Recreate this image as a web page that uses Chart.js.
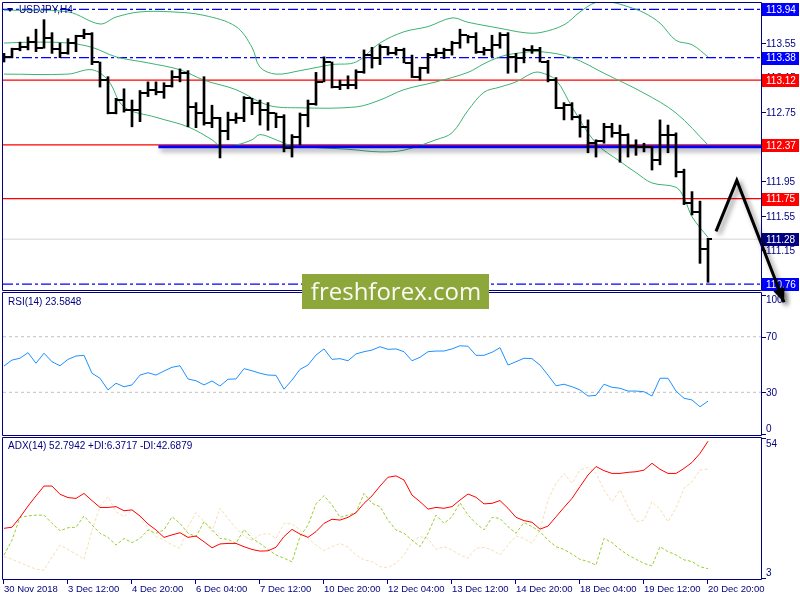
<!DOCTYPE html>
<html>
<head>
<meta charset="UTF-8">
<title>USDJPY,H4</title>
<script src="https://cdn.jsdelivr.net/npm/chart.js@4.4.1/dist/chart.umd.min.js"></script>
<style>
  body { margin: 0; background: #fff; }
  #wrap { position: relative; width: 800px; height: 600px; }
  #wrap canvas { position: absolute; left: 0; top: 0; }
</style>
</head>
<body>
<div id="wrap">
  <canvas id="adx" width="800" height="600"></canvas>
  <canvas id="rsi" width="800" height="600"></canvas>
  <canvas id="price" width="800" height="600"></canvas>
</div>
<script>
// ---- data (H4 bars, index 0 = 30 Nov 2018) ----
var opens = [113.38,113.39,113.48,113.50,113.56,113.49,113.61,113.48,113.43,113.55,
  113.63,113.65,113.33,113.12,112.74,112.89,112.78,112.78,112.97,113.01,
  112.98,113.05,113.16,113.20,112.81,112.74,112.62,112.68,112.53,112.66,
  112.68,112.91,112.86,112.78,112.74,112.69,112.34,112.46,112.72,112.84,
  113.10,113.33,113.04,113.06,113.06,113.21,113.41,113.38,113.50,113.43,
  113.47,113.32,113.16,113.26,113.41,113.43,113.47,113.55,113.64,113.62,
  113.45,113.47,113.53,113.64,113.39,113.38,113.47,113.47,113.33,113.12,
  112.80,112.83,112.69,112.58,112.39,112.42,112.58,112.51,112.49,112.36,
  112.35,112.35,112.20,112.49,112.49,112.06,111.70,111.59,111.17];
var highs = [113.43,113.49,113.56,113.62,113.71,113.82,113.67,113.55,113.60,113.64,
  113.71,113.67,113.33,113.16,112.91,113.02,112.89,113.00,113.10,113.10,
  113.09,113.23,113.25,113.23,112.86,113.16,112.83,112.69,112.75,112.74,
  112.93,112.91,112.89,112.86,112.74,112.72,112.49,112.74,112.89,113.21,
  113.39,113.33,113.12,113.17,113.24,113.47,113.50,113.53,113.51,113.50,
  113.49,113.41,113.27,113.43,113.49,113.49,113.57,113.71,113.64,113.67,
  113.50,113.64,113.67,113.67,113.43,113.49,113.52,113.50,113.35,113.15,
  112.86,112.86,112.72,112.66,112.43,112.62,112.62,112.60,112.50,112.43,
  112.39,112.35,112.66,112.60,112.51,112.09,111.83,111.72,111.29];
var lows = [113.33,113.38,113.46,113.47,113.45,113.49,113.43,113.38,113.42,113.45,
  113.60,113.30,113.04,112.73,112.73,112.75,112.58,112.64,112.93,112.95,
  112.91,113.04,113.10,112.58,112.57,112.60,112.57,112.22,112.43,112.62,
  112.64,112.72,112.60,112.54,112.57,112.29,112.23,112.37,112.58,112.83,
  113.10,113.03,113.01,113.02,113.02,113.20,113.26,113.30,113.41,113.41,
  113.32,113.15,113.12,113.20,113.38,113.37,113.41,113.49,113.55,113.43,
  113.41,113.39,113.49,113.20,113.21,113.32,113.43,113.33,113.10,112.79,
  112.66,112.66,112.46,112.28,112.23,112.39,112.46,112.17,112.23,112.25,
  112.29,112.08,112.14,112.28,112.00,111.68,111.56,111.00,110.78];
var closes = [113.39,113.48,113.50,113.56,113.49,113.61,113.48,113.43,113.55,113.63,
  113.65,113.33,113.12,112.74,112.89,112.78,112.78,112.97,113.01,112.98,
  113.05,113.16,113.20,112.81,112.74,112.62,112.68,112.53,112.66,112.68,
  112.91,112.86,112.78,112.74,112.69,112.34,112.46,112.72,112.84,113.10,
  113.33,113.04,113.06,113.06,113.21,113.41,113.38,113.50,113.43,113.47,
  113.32,113.16,113.26,113.41,113.43,113.47,113.55,113.64,113.62,113.45,
  113.47,113.53,113.64,113.39,113.38,113.47,113.47,113.33,113.12,112.80,
  112.83,112.69,112.58,112.39,112.42,112.58,112.51,112.49,112.36,112.35,
  112.35,112.20,112.49,112.49,112.06,111.70,111.59,111.17,111.28];

// bollinger bands, read at key bars
var upperX = [0,8,12,14,17,21,25,29,31,32,34,37,41,44,47,50,53,56,58,62,65,67,70,72,74,76,78,80,82,84,86,88];
var upperY = [113.93,113.91,113.77,113.85,113.91,113.91,113.87,113.74,113.50,113.27,113.19,113.23,113.30,113.33,113.55,113.68,113.74,113.84,113.79,113.72,113.67,113.67,113.76,113.91,114.02,114.02,113.97,113.90,113.78,113.58,113.53,113.39];
var middleX = [0,4,8,11,14,18,22,25,29,33,37,44,47,50,54,58,60,62,64,67,71,75,80,84,88];
var middleY = [113.55,113.56,113.55,113.50,113.39,113.32,113.24,113.12,113.01,112.83,112.80,112.81,112.89,113.01,113.10,113.21,113.31,113.39,113.43,113.45,113.38,113.20,112.97,112.74,112.37];
var lowerX = [0,8,11,13,15,19,23,26,27,29,31,32,34,36,39,43,47,50,54,56,58,60,62,64,66,67,69,71,74,77,79,81,84,85,86,88];
var lowerY = [113.19,113.19,113.24,113.12,112.81,112.69,112.58,112.43,112.36,112.37,112.43,112.49,112.43,112.36,112.34,112.32,112.29,112.31,112.43,112.51,112.77,112.98,113.04,113.10,113.20,113.21,113.12,112.81,112.39,112.18,112.05,111.93,111.88,111.76,111.54,111.30];

var rsi = [48.9,53.2,54.5,58.5,50.9,58.1,52.0,49.1,53.7,56.1,
  56.6,43.7,40.1,31.7,36.5,34.0,35.3,42.4,44.1,42.4,
  45.3,48.0,49.1,39.6,38.3,35.3,38.1,34.5,39.4,39.6,
  47.0,45.5,43.7,42.4,42.2,32.2,38.8,46.5,49.6,56.8,
  61.2,53.7,54.2,52.7,57.6,59.2,60.4,62.8,60.9,61.2,
  59.2,52.7,55.2,59.2,59.7,59.7,61.2,63.5,63.1,56.6,
  56.6,58.8,62.1,49.6,52.0,54.5,54.2,49.6,42.4,34.7,
  35.8,34.0,31.7,27.3,27.8,35.8,33.6,32.9,30.9,30.9,
  30.4,27.3,40.1,40.1,30.9,25.7,24.5,19.6,23.6];
var adx = [21.1,21.5,25.1,29.2,32.9,36.5,36.5,33.5,32.3,32.0,
  33.8,31.2,28.7,28.7,29.0,27.5,27.8,25.6,22.7,20.5,
  17.8,18.7,19.5,17.8,18.3,16.2,14.0,15.4,15.6,15.6,
  14.4,13.4,12.8,12.9,14.2,18.1,20.7,19.0,17.8,19.9,
  22.9,24.4,24.1,25.1,26.8,30.2,32.9,36.5,39.7,40.2,
  38.7,33.2,30.8,28.1,28.7,28.4,29.0,31.4,33.6,32.4,
  30.0,30.2,31.2,28.4,25.1,23.9,23.3,20.8,21.9,25.3,
  28.7,32.0,36.3,40.5,43.6,42.1,41.1,41.1,41.5,41.7,
  42.3,44.8,42.6,41.1,41.1,42.9,45.1,48.4,52.8];
var plusDI = [11.4,16.8,25.1,25.6,25.9,25.9,22.9,20.2,21.3,21.5,
  25.6,22.3,19.3,17.8,15.0,17.4,15.9,17.4,20.5,19.3,
  20.5,25.3,22.9,19.3,18.1,23.5,20.7,17.4,17.1,15.6,
  20.7,17.4,15.6,13.4,11.4,10.2,8.9,18.1,22.3,30.0,
  33.0,29.6,25.1,25.9,26.8,33.8,30.2,29.0,24.1,20.5,
  19.3,16.8,14.4,19.3,25.9,22.9,25.3,30.4,25.9,22.9,
  20.5,25.1,24.7,21.7,19.3,23.2,21.7,19.9,16.8,14.4,
  13.4,11.7,9.8,9.0,7.7,17.4,15.9,13.4,11.4,9.8,
  8.3,7.4,14.4,12.6,11.4,9.6,9.0,7.1,6.4];
var minusDI = [10.8,9.8,8.6,7.4,6.2,5.9,10.8,15.0,13.4,11.7,
  9.8,20.5,29.0,32.6,27.2,25.3,27.8,25.3,21.1,18.1,
  16.8,15.0,13.8,21.7,26.8,23.5,19.9,28.4,24.7,21.1,
  18.3,16.8,18.7,19.3,17.4,22.9,22.7,20.5,17.4,15.0,
  13.0,14.4,15.6,14.2,11.4,9.6,9.0,7.1,6.8,8.3,
  11.4,16.2,18.1,17.4,13.4,14.4,13.2,11.4,10.2,13.8,
  14.2,13.2,11.4,15.0,18.3,17.4,15.6,20.5,31.4,37.5,
  41.1,37.5,42.3,43.3,41.1,35.1,30.8,35.1,29.0,23.5,
  24.1,30.8,28.0,23.5,28.4,35.7,38.1,42.3,42.7];

// levels and axis texts
var blueLevels = [113.94, 113.38, 110.76];
var redLevels = [113.12, 112.37, 111.75];
var bidLevel = 111.28;
var supportLevel = 112.35, supportFrom = 19.3;
var priceTicks = [113.55, 113.15, 112.75, 112.35, 111.95, 111.55, 111.15, 110.75];
var arrowX = [89.0, 91.6, 97.5];
var arrowY = [111.37, 111.96, 110.55];
var rsiLevels = [70, 30];
var rsiLabels = [100, 70, 30, 0];
var adxLabels = [54, 3];
var timeLabels = ['30 Nov 2018','3 Dec 12:00','4 Dec 20:00','6 Dec 04:00','7 Dec 12:00','10 Dec 20:00',
  '12 Dec 04:00','13 Dec 12:00','14 Dec 20:00','18 Dec 04:00','19 Dec 12:00','20 Dec 20:00'];
var timeBars = [0,8,16,24,32,40,48,56,64,72,80,88];

var xMin = -0.125, xMax = 94.625;
var NAVY = '#000080';
var FONT = '"Liberation Sans", Arial, sans-serif';

function pts(xs, ys) { return xs.map(function (x, i) { return {x: x, y: ys[i]}; }); }
function series(vals) { return vals.map(function (v, i) { return {x: i, y: v}; }); }
function hline(v, from) { return [{x: from === undefined ? xMin : from, y: v}, {x: xMax, y: v}]; }

function tickImg(left) {
  var c = document.createElement('canvas');
  c.width = 8; c.height = 2;
  var g = c.getContext('2d');
  g.fillStyle = '#000';
  g.fillRect(left ? 0 : 5, 0, 3, 2);
  return c;
}

function opts(pad, yMin, yMax) {
  return {
    responsive: false, animation: false, devicePixelRatio: 1, events: [],
    layout: {padding: pad, autoPadding: false},
    plugins: {legend: {display: false}, tooltip: {enabled: false}},
    scales: {
      x: {type: 'linear', min: xMin, max: xMax, display: false, offset: false, grid: {offset: false}},
      y: {type: 'linear', min: yMin, max: yMax, display: false}
    },
    elements: {point: {radius: 0}, line: {borderWidth: 1}}
  };
}

function setShadow(ctx, dx, dy) {
  ctx.shadowColor = 'rgba(0,0,0,0.45)';
  ctx.shadowBlur = 5;
  ctx.shadowOffsetX = dx;
  ctx.shadowOffsetY = dy;
}

var shadowPlugin = {
  id: 'shadow',
  beforeDatasetDraw: function (chart, args) {
    var ds = chart.data.datasets[args.index];
    if (!ds.shadow) return;
    chart.ctx.save();
    setShadow(chart.ctx, ds.shadow[0], ds.shadow[1]);
  },
  afterDatasetDraw: function (chart, args) {
    if (chart.data.datasets[args.index].shadow) chart.ctx.restore();
  }
};

function frame(ctx, top, bottom) {
  ctx.save();
  ctx.strokeStyle = NAVY; ctx.lineWidth = 1;
  ctx.beginPath();
  ctx.moveTo(2.5, top + 0.5); ctx.lineTo(761.5, top + 0.5);
  ctx.moveTo(2.5, bottom + 0.5); ctx.lineTo(761.5, bottom + 0.5);
  ctx.moveTo(2.5, top + 0.5); ctx.lineTo(2.5, bottom + 0.5);
  ctx.moveTo(761.5, top + 0.5); ctx.lineTo(761.5, bottom + 0.5);
  ctx.stroke();
  ctx.restore();
}

function axisTick(ctx, y) {
  ctx.fillStyle = NAVY;
  ctx.fillRect(762, Math.round(y), 4, 1);
}

// ---- price panel ----
var priceDecor = {
  id: 'priceDecor',
  beforeDatasetsDraw: function (chart) {
    var ctx = chart.ctx, ys = chart.scales.y;
    ctx.save();
    ctx.font = '10px ' + FONT;
    ctx.textBaseline = 'middle';
    priceTicks.forEach(function (v) {
      var y = ys.getPixelForValue(v);
      axisTick(ctx, y);
      ctx.fillStyle = NAVY;
      ctx.fillText(v.toFixed(2), 766, y + 1);
    });
    function tag(v, bg) {
      var y = ys.getPixelForValue(v);
      ctx.fillStyle = bg;
      ctx.fillRect(762, Math.round(y) - 6, 37, 13);
      ctx.fillStyle = '#fff';
      ctx.fillText(v.toFixed(2), 766, y + 1);
    }
    blueLevels.forEach(function (v) { tag(v, '#0000ff'); });
    redLevels.forEach(function (v) { tag(v, '#ff0000'); });
    tag(bidLevel, NAVY);
    ctx.restore();
  },
  afterDatasetsDraw: function (chart) {
    // arrow head at the end of the drawn arrow
    var ctx = chart.ctx, xs = chart.scales.x, ys = chart.scales.y;
    var n = arrowX.length;
    var x1 = xs.getPixelForValue(arrowX[n - 2]), y1 = ys.getPixelForValue(arrowY[n - 2]);
    var x2 = xs.getPixelForValue(arrowX[n - 1]), y2 = ys.getPixelForValue(arrowY[n - 1]);
    var a = Math.atan2(y2 - y1, x2 - x1), len = 14, w = 6;
    ctx.save();
    setShadow(ctx, 3, 3);
    ctx.fillStyle = '#000';
    ctx.beginPath();
    ctx.moveTo(x2, y2);
    ctx.lineTo(x2 - len * Math.cos(a) + w * Math.sin(a), y2 - len * Math.sin(a) - w * Math.cos(a));
    ctx.lineTo(x2 - len * Math.cos(a) - w * Math.sin(a), y2 - len * Math.sin(a) + w * Math.cos(a));
    ctx.closePath();
    ctx.fill();
    ctx.restore();
  },
  afterDraw: function (chart) {
    var ctx = chart.ctx;
    frame(ctx, 2, 290);
    ctx.save();
    // symbol caption
    ctx.fillStyle = NAVY;
    ctx.beginPath();
    ctx.moveTo(7, 8); ctx.lineTo(13, 8); ctx.lineTo(10, 12); ctx.closePath();
    ctx.fill();
    ctx.font = '10px ' + FONT;
    ctx.textBaseline = 'middle';
    ctx.fillText('USDJPY,H4', 19, 10);
    // watermark
    ctx.fillStyle = '#8ea73b';
    ctx.fillRect(302, 274, 187, 35);
    ctx.fillStyle = 'rgba(255,255,255,0.95)';
    ctx.font = '24px "Open Sans", sans-serif';
    ctx.textAlign = 'center';
    ctx.textBaseline = 'alphabetic';
    ctx.fillText('freshforex.com', 396, 300);
    ctx.restore();
  }
};

var openImg = tickImg(true), closeImg = tickImg(false);

new Chart(document.getElementById('price'), {
  type: 'line',
  data: {
    datasets: [
      {type: 'line', data: pts(arrowX, arrowY), borderColor: '#000', borderWidth: 3, clip: false,
        shadow: [3, 3], order: 0},
      {type: 'scatter', data: series(opens), pointStyle: openImg, pointRadius: 1, order: 1},
      {type: 'scatter', data: series(closes), pointStyle: closeImg, pointRadius: 1, order: 1},
      {type: 'bar', data: highs.map(function (h, i) { return {x: i, y: [lows[i], h]}; }),
        backgroundColor: '#000', borderWidth: 0, barThickness: 2, order: 2},
      {type: 'line', data: hline(supportLevel, supportFrom), borderColor: '#0000ff', borderWidth: 3,
        shadow: [2, 3], order: 3},
      {type: 'line', data: pts(upperX, upperY), borderColor: '#3cb371', tension: 0.35, order: 4},
      {type: 'line', data: pts(middleX, middleY), borderColor: '#3cb371', tension: 0.35, order: 4},
      {type: 'line', data: pts(lowerX, lowerY), borderColor: '#3cb371', tension: 0.35, order: 4},
      {type: 'line', data: hline(blueLevels[0]), borderColor: '#0000ff', borderWidth: 1.3, borderDash: [10, 3, 3, 3], order: 5},
      {type: 'line', data: hline(blueLevels[1]), borderColor: '#0000ff', borderWidth: 1.3, borderDash: [10, 3, 3, 3], order: 5},
      {type: 'line', data: hline(blueLevels[2]), borderColor: '#0000ff', borderWidth: 1.3, borderDash: [10, 3, 3, 3], order: 5},
      {type: 'line', data: hline(redLevels[0]), borderColor: '#ff0000', borderWidth: 1.2, order: 6},
      {type: 'line', data: hline(redLevels[1]), borderColor: '#ff0000', borderWidth: 1.2, order: 6},
      {type: 'line', data: hline(redLevels[2]), borderColor: '#ff0000', borderWidth: 1.2, order: 6},
      {type: 'line', data: hline(bidLevel), borderColor: '#d3d3d3', order: 7}
    ]
  },
  options: opts({left: 3, right: 39, top: 3, bottom: 311}, 110.703, 114.013),
  plugins: [shadowPlugin, priceDecor]
});

// ---- RSI panel ----
var rsiDecor = {
  id: 'rsiDecor',
  afterDraw: function (chart) {
    var ctx = chart.ctx, ys = chart.scales.y;
    frame(ctx, 292, 435);
    ctx.save();
    ctx.font = '10px ' + FONT;
    ctx.fillStyle = NAVY;
    rsiLabels.forEach(function (v) {
      var y = ys.getPixelForValue(v);
      axisTick(ctx, y);
      ctx.textBaseline = v === 100 ? 'top' : (v === 0 ? 'bottom' : 'middle');
      ctx.fillText(String(v), 766, v === 100 ? y : (v === 0 ? y : y + 1));
    });
    ctx.textBaseline = 'middle';
    ctx.fillText('RSI(14) ' + '23.5848', 8, 302);
    ctx.restore();
  }
};

new Chart(document.getElementById('rsi'), {
  type: 'line',
  data: {
    datasets: [
      {data: series(rsi), borderColor: '#1e90ff', order: 0},
      {data: hline(rsiLevels[0]), borderColor: '#c0c0c0', borderDash: [3, 3], order: 1},
      {data: hline(rsiLevels[1]), borderColor: '#c0c0c0', borderDash: [3, 3], order: 1}
    ]
  },
  options: opts({left: 3, right: 39, top: 295, bottom: 166}, 0, 100),
  plugins: [rsiDecor]
});

// ---- ADX panel + time axis ----
var adxDecor = {
  id: 'adxDecor',
  afterDraw: function (chart) {
    var ctx = chart.ctx, ys = chart.scales.y, xs = chart.scales.x;
    frame(ctx, 437, 579);
    ctx.save();
    ctx.font = '10px ' + FONT;
    ctx.fillStyle = NAVY;
    adxLabels.forEach(function (v, i) {
      var y = ys.getPixelForValue(v);
      axisTick(ctx, y);
      ctx.textBaseline = i === 0 ? 'top' : 'bottom';
      ctx.fillText(String(v), 766, y + (i === 0 ? 1 : 0));
    });
    ctx.textBaseline = 'middle';
    ctx.fillText('ADX(14) 52.7942 +DI:6.3717 -DI:42.6879', 8, 446);
    ctx.font = '9.5px ' + FONT;
    timeBars.forEach(function (b, i) {
      var x = Math.round(xs.getPixelForValue(b)) - 1;
      ctx.fillRect(x, 580, 1, 4);
      ctx.fillText(timeLabels[i], x + 1, 589);
    });
    ctx.restore();
  }
};

new Chart(document.getElementById('adx'), {
  type: 'line',
  data: {
    datasets: [
      {data: series(adx), borderColor: '#ff0000', order: 0},
      {data: series(plusDI), borderColor: '#9acd32', borderDash: [3, 2], order: 1},
      {data: series(minusDI), borderColor: '#f5deb3', borderDash: [3, 2], order: 2}
    ]
  },
  options: opts({left: 3, right: 39, top: 438, bottom: 22}, 3, 54),
  plugins: [adxDecor]
});
</script>
</body>
</html>
